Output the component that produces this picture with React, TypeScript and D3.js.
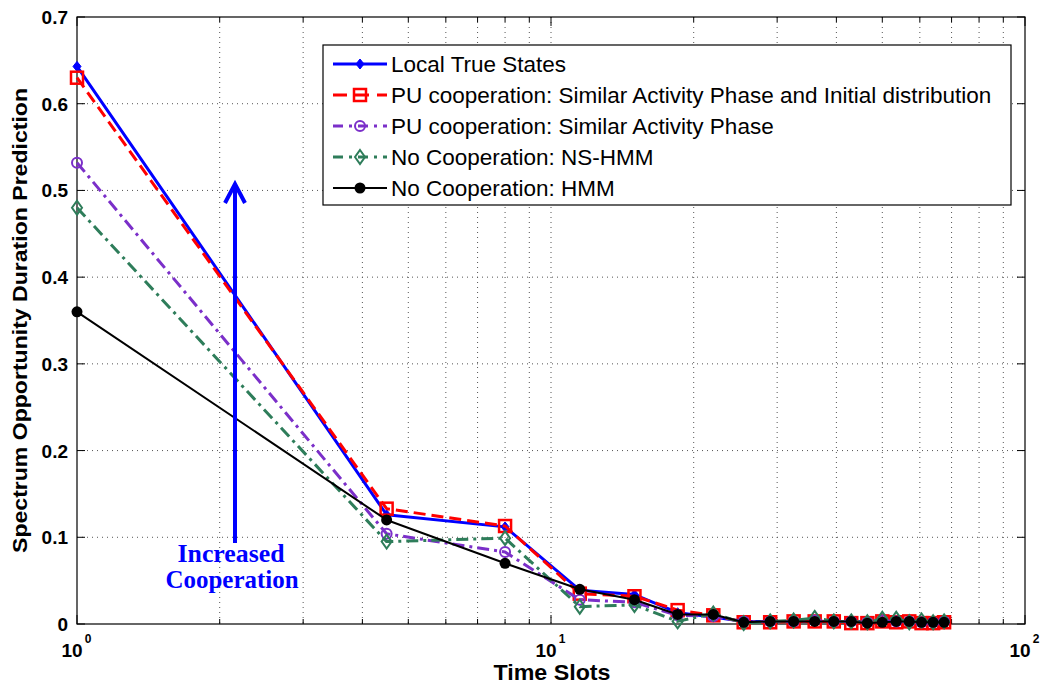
import React from "react";
import * as d3 from "d3";

// time slots on the x axis (log scale)
const timeSlots = [1, 4.5, 8, 11.5, 15, 18.5, 22, 25.5, 29, 32.5, 36, 39.5, 43, 46.5, 50, 53.5, 57, 60.5, 64, 67.5];

const localTrue = [0.643, 0.126, 0.112, 0.039, 0.034, 0.013, 0.008, 0.003, 0.003, 0.003, 0.003, 0.003, 0.003, 0.003, 0.003, 0.003, 0.003, 0.003, 0.003, 0.003];
const puPhaseInit = [0.630, 0.133, 0.113, 0.035, 0.032, 0.016, 0.010, 0.002, 0.002, 0.003, 0.003, 0.003, 0.001, 0.001, 0.003, 0.002, 0.003, 0.001, 0.001, 0.002];
const puPhase = [0.532, 0.104, 0.083, 0.028, 0.025, 0.010, 0.009, 0.003, 0.003, 0.003, 0.004, 0.003, 0.003, 0.002, 0.004, 0.003, 0.003, 0.002, 0.002, 0.003];
const nsHmm = [0.480, 0.095, 0.099, 0.020, 0.022, 0.003, 0.012, 0.001, 0.003, 0.004, 0.007, 0.003, 0.003, 0.002, 0.006, 0.006, 0.002, 0.004, 0.002, 0.003];
const hmm = [0.360, 0.120, 0.070, 0.040, 0.028, 0.011, 0.011, 0.002, 0.003, 0.003, 0.003, 0.003, 0.003, 0.001, 0.002, 0.003, 0.003, 0.002, 0.002, 0.002];

const yTicks = [0, 0.1, 0.2, 0.3, 0.4, 0.5, 0.6, 0.7];
const xDecades = [0, 1, 2];

const seriesNames = [
  "Local True States",
  "PU cooperation: Similar Activity Phase and Initial distribution",
  "PU cooperation: Similar Activity Phase",
  "No Cooperation: NS-HMM",
  "No Cooperation: HMM",
];

const series = [
  { name: seriesNames[0], values: localTrue, color: "#0000ff", dash: "", legDash: "", width: 3, marker: "diamondFilled" },
  { name: seriesNames[1], values: puPhaseInit, color: "#ff0000", dash: "12,6", legDash: "14,8", width: 3, marker: "square" },
  { name: seriesNames[2], values: puPhase, color: "#7b2fc9", dash: "12,5,3,5", legDash: "10,6,3,6", width: 3, marker: "circle" },
  { name: seriesNames[3], values: nsHmm, color: "#2e7d5a", dash: "12,5,3,5", legDash: "10,6,3,6", width: 3, marker: "diamond" },
  { name: seriesNames[4], values: hmm, color: "#000000", dash: "", legDash: "", width: 2, marker: "dot" },
];

const W = 1051;
const H = 688;
const left = 77, right = 1025, top = 17, bottom = 624;

const Marker = ({ type, x, y, color }: { type: string; x: number; y: number; color: string }) => {
  if (type === "diamondFilled")
    return <path d={`M${x},${y - 5}L${x + 4},${y}L${x},${y + 5}L${x - 4},${y}Z`} fill={color} stroke={color} strokeWidth={1} />;
  if (type === "square")
    return <rect x={x - 6} y={y - 6} width={12} height={12} fill="none" stroke={color} strokeWidth={2.5} />;
  if (type === "circle")
    return <circle cx={x} cy={y} r={5} fill="none" stroke={color} strokeWidth={2} />;
  if (type === "diamond")
    return <path d={`M${x},${y - 7}L${x + 5},${y}L${x},${y + 7}L${x - 5},${y}Z`} fill="none" stroke={color} strokeWidth={2} />;
  return <circle cx={x} cy={y} r={5.5} fill={color} />;
};

export default function App() {
  const x = d3.scaleLog().domain([1, 100]).range([left, right]);
  const y = d3.scaleLinear().domain([0, 0.7]).range([bottom, top]);

  const minor: number[] = [];
  for (let d = 1; d < 100; d *= 10) for (let k = 2; k <= 9; k++) minor.push(d * k);

  const line = d3
    .line<number>()
    .x((_, i) => x(timeSlots[i]))
    .y((v) => y(v));

  const font = "'Liberation Sans', Arial, sans-serif";
  const serif = "'Liberation Serif', 'DejaVu Serif', serif";
  const legX = 323, legY = 45, legW = 688, legH = 160;

  return (
    <svg width={W} height={H} style={{ position: "absolute", left: 0, top: 0, background: "#fff" }}>
      <rect x={0} y={0} width={W} height={H} fill="#fff" />
      {/* grid */}
      {yTicks.slice(1, -1).map((t) => (
        <line key={"gy" + t} x1={left} x2={right} y1={y(t)} y2={y(t)} stroke="#555" strokeWidth={1} strokeDasharray="1,4" />
      ))}
      {[...minor, 10].map((m) => (
        <line key={"gx" + m} x1={x(m)} x2={x(m)} y1={top} y2={bottom} stroke="#555" strokeWidth={1} strokeDasharray="1,4" />
      ))}
      {/* ticks */}
      {yTicks.map((t) => (
        <g key={"ty" + t}>
          <line x1={left} x2={left + 8} y1={y(t)} y2={y(t)} stroke="#000" />
          <line x1={right} x2={right - 8} y1={y(t)} y2={y(t)} stroke="#000" />
          <text x={68} y={y(t) + 7} textAnchor="end" fontFamily={font} fontWeight="bold" fontSize={19}>
            {t === 0 ? "0" : t.toFixed(1)}
          </text>
        </g>
      ))}
      {minor.map((m) => (
        <g key={"tm" + m}>
          <line x1={x(m)} x2={x(m)} y1={bottom} y2={bottom - 5} stroke="#000" />
          <line x1={x(m)} x2={x(m)} y1={top} y2={top + 5} stroke="#000" />
        </g>
      ))}
      {xDecades.map((d) => (
        <g key={"tx" + d}>
          <line x1={x(10 ** d)} x2={x(10 ** d)} y1={bottom} y2={bottom - 9} stroke="#000" />
          <line x1={x(10 ** d)} x2={x(10 ** d)} y1={top} y2={top + 9} stroke="#000" />
          <text x={x(10 ** d) - 5} y={657} textAnchor="middle" fontFamily={font} fontWeight="bold" fontSize={19}>
            10
          </text>
          <text x={x(10 ** d) + 11} y={643} textAnchor="middle" fontFamily={font} fontWeight="bold" fontSize={12}>
            {d}
          </text>
        </g>
      ))}
      <rect x={left} y={top} width={right - left} height={bottom - top} fill="none" stroke="#000" strokeWidth={1.2} />

      {/* series */}
      {series.map((s) => (
        <g key={s.name}>
          <path d={line(s.values) || ""} fill="none" stroke={s.color} strokeWidth={s.width} strokeDasharray={s.dash} strokeLinejoin="round" />
          {s.values.map((v, i) => (
            <Marker key={i} type={s.marker} x={x(timeSlots[i])} y={y(v)} color={s.color} />
          ))}
        </g>
      ))}

      {/* annotation arrow */}
      <line x1={235} x2={235} y1={543} y2={185} stroke="#0000ff" strokeWidth={4} />
      <path d="M225,203L235,184L245,203" fill="none" stroke="#0000ff" strokeWidth={4} />
      <text x={231} y={562} textAnchor="middle" fill="#0000ff" fontFamily={serif} fontWeight="bold" fontSize={25} textLength={107} lengthAdjust="spacingAndGlyphs">
        Increased
      </text>
      <text x={232} y={588} textAnchor="middle" fill="#0000ff" fontFamily={serif} fontWeight="bold" fontSize={25} textLength={133} lengthAdjust="spacingAndGlyphs">
        Cooperation
      </text>

      {/* legend */}
      <rect x={legX} y={legY} width={legW} height={legH} fill="#fff" stroke="#000" strokeWidth={1.2} />
      {series.map((s, i) => {
        const ly = legY + 19 + i * 31;
        return (
          <g key={"leg" + i}>
            <line x1={legX + 10} x2={legX + 64} y1={ly} y2={ly} stroke={s.color} strokeWidth={s.width} strokeDasharray={s.legDash} />
            <Marker type={s.marker} x={legX + 37} y={ly} color={s.color} />
            <text x={legX + 68} y={ly + 8} fontFamily={font} fontSize={22.5}>
              {s.name}
            </text>
          </g>
        );
      })}

      {/* axis labels */}
      <text x={552} y={680} textAnchor="middle" fontFamily={font} fontWeight="bold" fontSize={22} textLength={117} lengthAdjust="spacingAndGlyphs">
        Time Slots
      </text>
      <text transform={`translate(27,${(top + bottom) / 2}) rotate(-90)`} textAnchor="middle" fontFamily={font} fontWeight="bold" fontSize={20} textLength={465} lengthAdjust="spacingAndGlyphs">
        Spectrum Opportunity Duration Prediction
      </text>
    </svg>
  );
}
